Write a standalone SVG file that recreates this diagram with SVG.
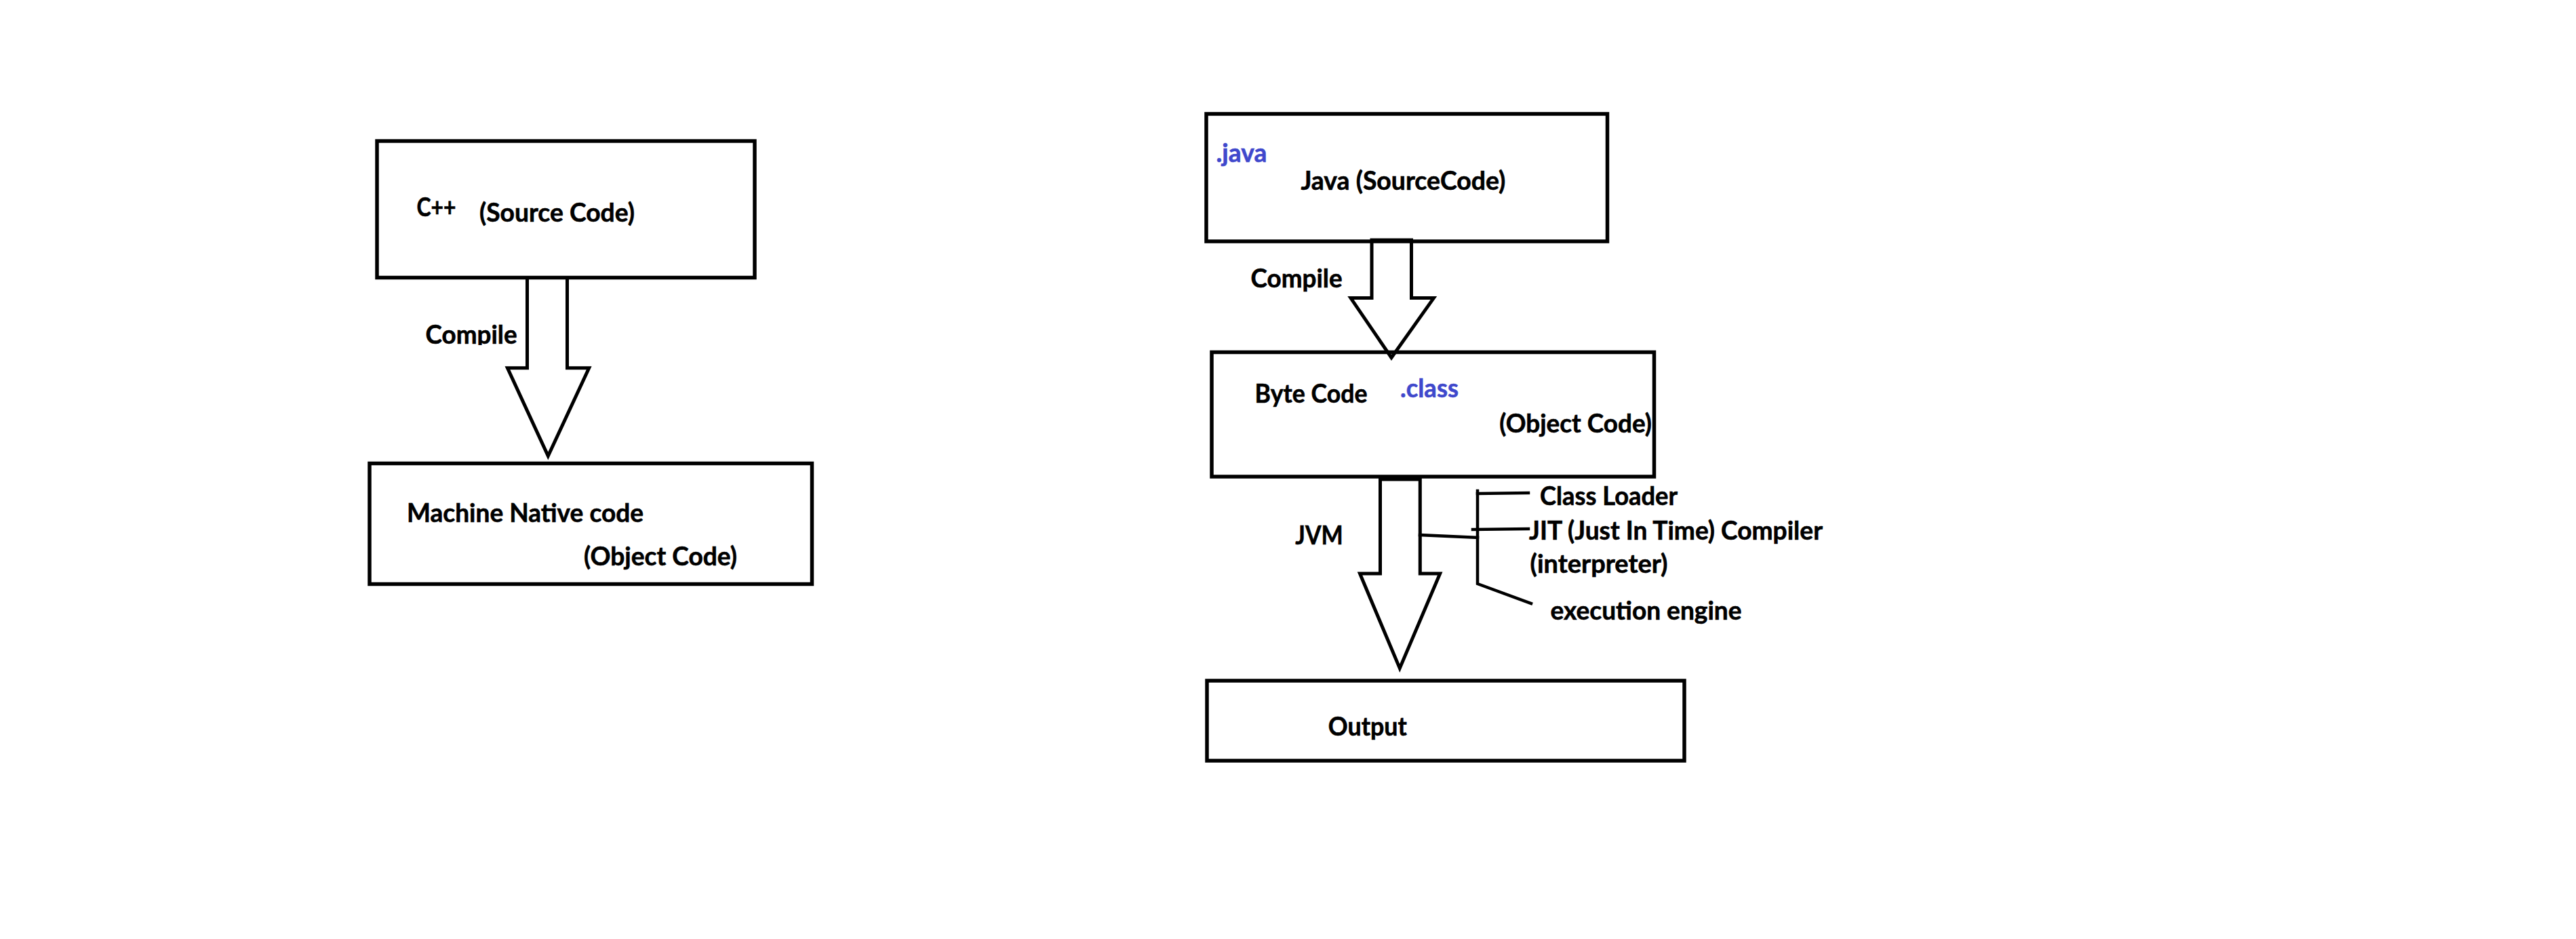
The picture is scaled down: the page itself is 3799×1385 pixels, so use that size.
<svg xmlns="http://www.w3.org/2000/svg" width="3799" height="1385" viewBox="0 0 3799 1385">
<style>
.box{fill:none;stroke:#000;stroke-width:5.5}
.arr{fill:#fff;stroke:#000;stroke-width:5;stroke-linejoin:miter}
.ln{fill:none;stroke:#000;stroke-width:4.5;stroke-linecap:square}
.t{font-family:Lato,"Liberation Sans",sans-serif;font-weight:bold;font-size:38px;fill:#000;stroke:#000;stroke-width:0.6}
.b{fill:#3F48CC;stroke:#3F48CC}
</style>
<defs>
<clipPath id="clipCompile"><rect x="600" y="450" width="200" height="59"/></clipPath>
</defs>
<rect width="3799" height="1385" fill="#fff"/>
<g id="connectors">
<polygon class="arr" points="777.5,409.5 777.5,542.7 748.4,542.7 808.3,672.5 868.7,542.7 836.5,542.7 836.5,409.5"/>
<polygon class="arr" points="2023,354 2023,439.6 1992,439.6 2052,527.5 2114.4,439.6 2081.5,439.6 2081.5,354"/>
<polygon class="arr" points="2035.5,707 2035.5,846 2005.5,846 2064.3,985.7 2123.7,846 2094.3,846 2094.3,707"/>
<text class="t" x="627.6" y="507" textLength="135" lengthAdjust="spacingAndGlyphs" clip-path="url(#clipCompile)">Compile</text>
<text class="t" x="1844.6" y="424" textLength="135" lengthAdjust="spacingAndGlyphs">Compile</text>
<text class="t" x="1910.3" y="803" textLength="70.4" lengthAdjust="spacingAndGlyphs">JVM</text>
<g id="jvm-parts">
<polyline class="ln" points="2094,789 2179,793"/>
<polyline class="ln" points="2179,724 2179,861 2258,890"/>
<polyline class="ln" points="2179,728 2254,727"/>
<polyline class="ln" points="2172,781 2254,780"/>
<text class="t" x="2271" y="745" textLength="203" lengthAdjust="spacingAndGlyphs">Class Loader</text>
<text class="t" x="2255" y="796" textLength="433" lengthAdjust="spacingAndGlyphs">JIT (Just In Time) Compiler</text>
<text class="t" x="2256.5" y="844.5" textLength="203" lengthAdjust="spacingAndGlyphs">(interpreter)</text>
<text class="t" x="2286.5" y="914" textLength="282" lengthAdjust="spacingAndGlyphs">execution engine</text>
</g>
</g>
<g id="cpp-source">
<rect class="box" x="556" y="208" width="557" height="201.5"/>
<text class="t" x="614.5" y="319" font-size="35" textLength="58" lengthAdjust="spacingAndGlyphs">C++</text>
<text class="t" x="707" y="327" textLength="229" lengthAdjust="spacingAndGlyphs">(Source Code)</text>
</g>
<g id="machine-code">
<rect class="box" x="545" y="683.5" width="652.5" height="178"/>
<text class="t" x="600" y="770" textLength="349" lengthAdjust="spacingAndGlyphs">Machine Native code</text>
<text class="t" x="861" y="834" textLength="226" lengthAdjust="spacingAndGlyphs">(Object Code)</text>
</g>
<g id="java-source">
<rect class="box" x="1779" y="168" width="591.5" height="188"/>
<text class="t b" x="1793.5" y="238.5" textLength="75" lengthAdjust="spacingAndGlyphs">.java</text>
<text class="t" x="1918.4" y="279.5" textLength="302" lengthAdjust="spacingAndGlyphs">Java (SourceCode)</text>
</g>
<g id="byte-code">
<rect class="box" x="1787" y="519.5" width="652.5" height="183.5"/>
<text class="t b" x="2065" y="586" textLength="86" lengthAdjust="spacingAndGlyphs">.class</text>
<text class="t" x="1850.6" y="594" textLength="166" lengthAdjust="spacingAndGlyphs">Byte Code</text>
<text class="t" x="2211.3" y="638" textLength="224.6" lengthAdjust="spacingAndGlyphs">(Object Code)</text>
</g>
<g id="output">
<rect class="box" x="1780" y="1004" width="704" height="118"/>
<text class="t" x="1958.8" y="1085.4" textLength="116" lengthAdjust="spacingAndGlyphs">Output</text>
</g>
</svg>
